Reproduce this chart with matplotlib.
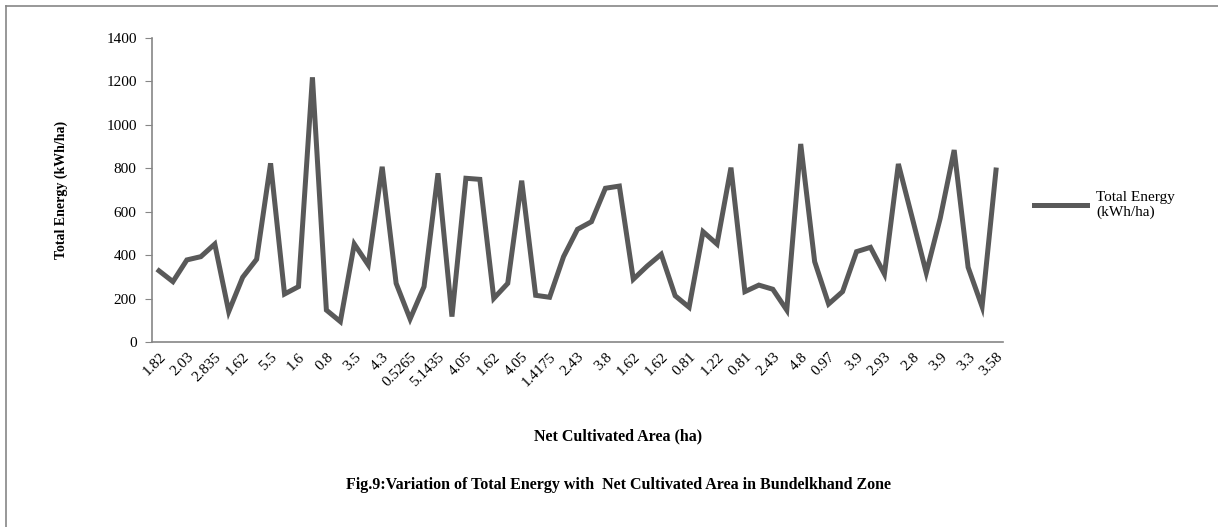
import matplotlib.pyplot as plt
from matplotlib.lines import Line2D

# Total energy (kWh/ha) for each farm, in the order shown
energy = [328, 278, 378, 393, 451, 140, 298, 381, 823, 221,
          255, 1219, 147, 94, 451, 355, 807, 270, 106, 255,
          777, 117, 754, 749, 201, 270, 743, 215, 206, 393,
          519, 554, 708, 718, 289, 350, 404, 213, 160, 508,
          451, 803, 232, 262, 243, 147, 912, 370, 175, 232,
          416, 436, 313, 820, 570, 319, 570, 884, 344, 163, 792]

# net cultivated area labels (only every second category is labelled)
tick_labels = ['1.82', '2.03', '2.835', '1.62', '5.5', '1.6', '0.8', '3.5',
               '4.3', '0.5265', '5.1435', '4.05', '1.62', '4.05', '1.4175',
               '2.43', '3.8', '1.62', '1.62', '0.81', '1.22', '0.81', '2.43',
               '4.8', '0.97', '3.9', '2.93', '2.8', '3.9', '3.3', '3.58']

W, H = 1218, 527
plt.rcParams['font.family'] = ['Liberation Serif', 'DejaVu Serif']

fig = plt.figure(figsize=(W / 100, H / 100), dpi=100)
ax = fig.add_axes([152 / W, 1 - 342 / H, (1003 - 152) / W, (342 - 38) / H])

x = list(range(len(energy)))
ax.plot(x, energy, color='#595959', linewidth=3.6, solid_joinstyle='miter',
        label='Total Energy\n(kWh/ha)')

ax.set_xlim(-0.5, len(energy) - 0.5)
ax.set_ylim(0, 1400)
ax.set_yticks(range(0, 1401, 200))
ax.set_xticks(x[::2])
ax.set_xticklabels(tick_labels, rotation=45, ha='right', rotation_mode='anchor')
ax.tick_params(axis='x', length=0, labelsize=11, pad=6)
ax.tick_params(axis='y', length=5, color='#868686', labelsize=11, pad=6)

for side in ['top', 'right']:
    ax.spines[side].set_visible(False)
for side in ['left', 'bottom']:
    ax.spines[side].set_color('#868686')
    ax.spines[side].set_linewidth(1.2)

fig.text(61 / W, 1 - 190 / H, 'Total Energy (kWh/ha)', rotation=90,
         ha='center', va='center', fontsize=10, fontweight='bold')
fig.text(618 / W, 1 - 436 / H, 'Net Cultivated Area (ha)',
         ha='center', va='center', fontsize=11.5, fontweight='bold')
fig.text(618 / W, 1 - 485 / H,
         'Fig.9:Variation of Total Energy with  Net Cultivated Area in Bundelkhand Zone',
         ha='center', va='center', fontsize=11.5, fontweight='bold')

ax.legend(loc='center left', bbox_to_anchor=(1020 / W, 1 - 205 / H),
          bbox_transform=fig.transFigure, frameon=False, fontsize=11,
          handlelength=3.5, handletextpad=0.6)

# chart area border (left and top edges visible)
fig.add_artist(Line2D([6 / W, 6 / W], [0, 1 - 6 / H], transform=fig.transFigure,
                      color='#868686', linewidth=1.2))
fig.add_artist(Line2D([6 / W, 1], [1 - 6 / H, 1 - 6 / H], transform=fig.transFigure,
                      color='#868686', linewidth=1.2))

fig.savefig('out.png', dpi=100)
